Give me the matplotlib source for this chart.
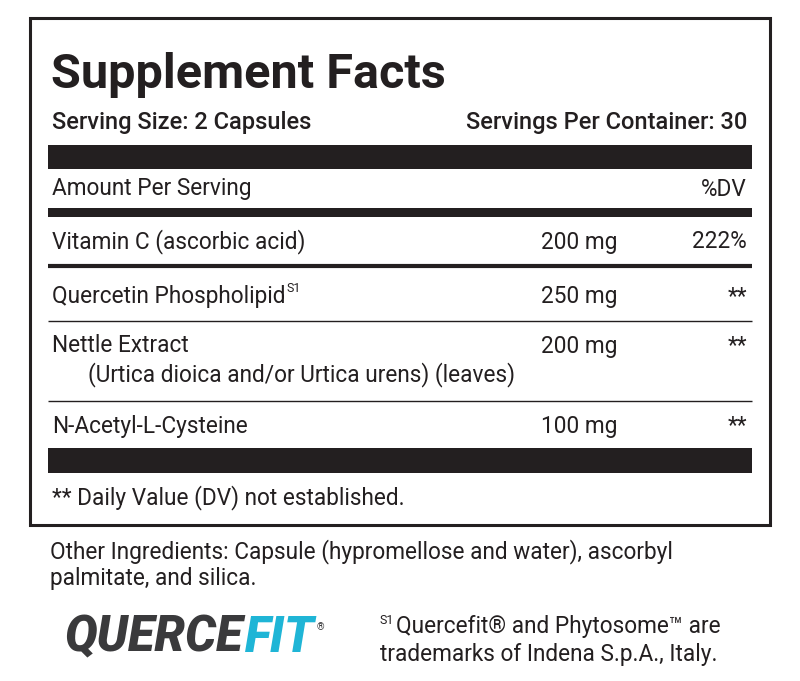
import matplotlib
matplotlib.use("Agg")
from matplotlib import pyplot as plt
from matplotlib.patches import Rectangle

plt.rcParams['font.family'] = ['Roboto', 'DejaVu Sans']

ingredients = ["Vitamin C (ascorbic acid)", "Quercetin Phospholipid", "Nettle Extract", "N-Acetyl-L-Cysteine"]
sub_lines = ["", "", "(Urtica dioica and/or Urtica urens) (leaves)", ""]
superscripts = ["", "S1", "", ""]
amounts = ["200 mg", "250 mg", "200 mg", "100 mg"]
daily_values = ["222%", "**", "**", "**"]
row_y = [242, 297, 346, 426]
rule_y = [266, 321, 401]
rule_w = [3, 1, 1]

fig = plt.figure(figsize=(8, 6.81), dpi=100)
ax = fig.add_axes([0, 0, 1, 1])
ax.set_xlim(0, 800)
ax.set_ylim(681, 0)
ax.axis('off')

ink = "#231f20"
fs = 16.3
fw = 'normal'


def right_edge(t):
    fig.canvas.draw()
    bb = t.get_window_extent()
    return ax.transData.inverted().transform((bb.x1, bb.y0))[0]


# outer box
ax.add_patch(Rectangle((30, 18), 740, 507, fill=False, lw=2.2, ec=ink))

ax.text(51, 88, "Supplement Facts", fontsize=35, fontweight='bold', color=ink, va='baseline')
ax.text(52, 123, "Serving Size: 2 Capsules", fontsize=17, fontweight='medium', color=ink, va='center')
ax.text(747, 123, "Servings Per Container: 30", fontsize=17, fontweight='medium', color=ink, va='center', ha='right')

# bars
ax.add_patch(Rectangle((48, 145), 704, 24, color=ink, lw=0))
ax.add_patch(Rectangle((48, 208), 704, 9, color=ink, lw=0))
ax.add_patch(Rectangle((48, 448), 704, 25, color=ink, lw=0))

ax.text(52, 189, "Amount Per Serving", fontsize=fs, fontweight=fw, color=ink, va='center')
ax.text(747, 189, "%DV", fontsize=fs, fontweight=fw, color=ink, va='center', ha='right')

for i, name in enumerate(ingredients):
    y = row_y[i]
    t = ax.text(52, y, name, fontsize=fs, fontweight=fw, color=ink, va='center')
    if superscripts[i]:
        ax.text(right_edge(t) + 1, y - 9, superscripts[i], fontsize=9, fontweight=fw, color=ink, va='center')
    if sub_lines[i]:
        ax.text(88, y + 29, sub_lines[i], fontsize=fs, fontweight=fw, color=ink, va='center')
    ax.text(617, y, amounts[i], fontsize=fs, fontweight=fw, color=ink, va='center', ha='right')
    ax.text(747, y, daily_values[i], fontsize=fs, fontweight=fw, color=ink, va='center', ha='right')

for y, w in zip(rule_y, rule_w):
    ax.plot([48, 752], [y, y], color=ink, lw=w, solid_capstyle='butt')

ax.text(52, 498, "** Daily Value (DV) not established.", fontsize=fs, fontweight=fw, color=ink, va='center')

ax.text(50, 552, "Other Ingredients: Capsule (hypromellose and water), ascorbyl", fontsize=fs, fontweight=fw, color=ink, va='center')
ax.text(50, 579, "palmitate, and silica.", fontsize=fs, fontweight=fw, color=ink, va='center')

# logo
t = ax.text(64, 638, "QUERCE", fontsize=35, fontweight='black', style='italic', color="#3a3a3c", va='center')
t2 = ax.text(right_edge(t) + 2, 638, "FIT", fontsize=35, fontweight='black', style='italic', color="#1fb5d6", va='center')
ax.text(right_edge(t2) + 2, 627, "®", fontsize=7, color="#3a3a3c", va='center')

ax.text(380, 620, "S1", fontsize=9, fontweight=fw, color=ink, va='center')
ax.text(396, 627, "Quercefit® and Phytosome™ are", fontsize=fs, fontweight=fw, color=ink, va='center')
ax.text(380, 655, "trademarks of Indena S.p.A., Italy.", fontsize=fs, fontweight=fw, color=ink, va='center')

fig.savefig("out.png", dpi=100)
